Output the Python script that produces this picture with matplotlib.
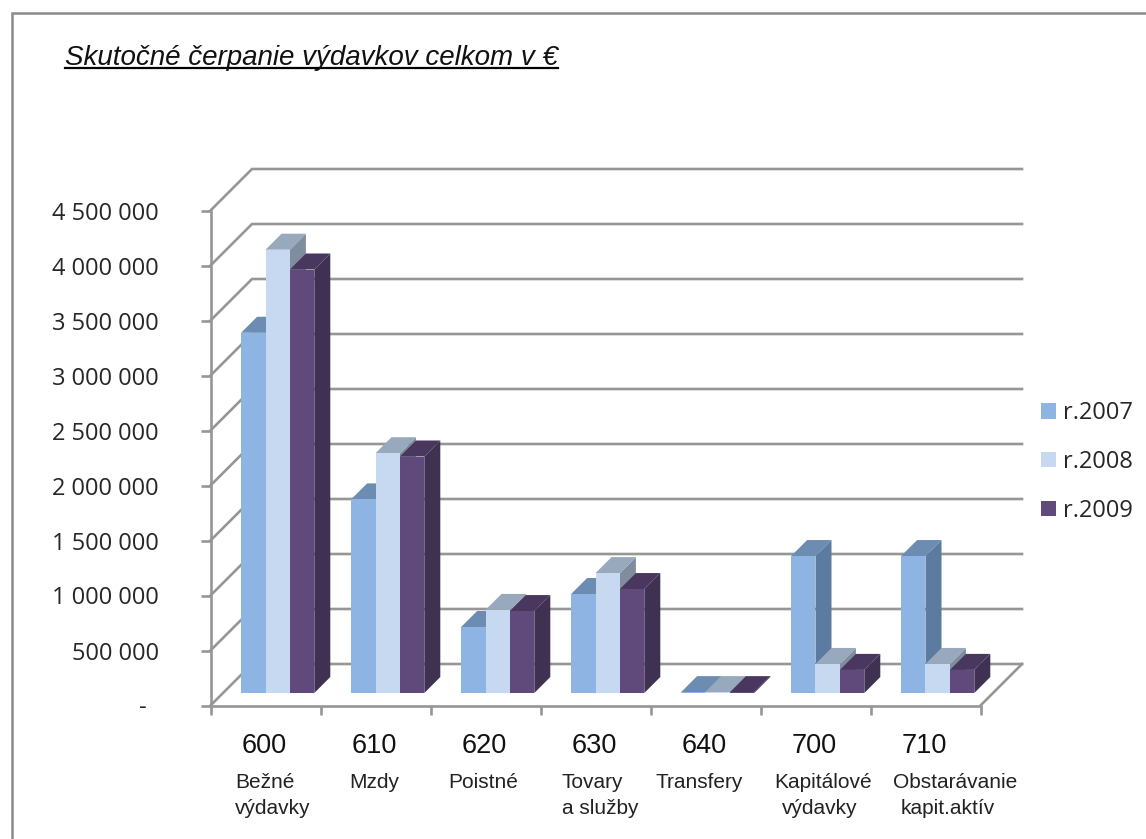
import matplotlib
matplotlib.use("Agg")
import matplotlib.pyplot as plt
from matplotlib.patches import Polygon, Patch
from matplotlib.lines import Line2D

W, H = 1146, 839

categories = ["600", "610", "620", "630", "640", "700", "710"]
series_names = ["r.2007", "r.2008", "r.2009"]
r2007 = [3275000, 1760000, 600000, 900000, 8000, 1245000, 1245000]
r2008 = [4030000, 2180000, 755000, 1090000, 8000, 264000, 264000]
r2009 = [3850000, 2150000, 745000, 945000, 8000, 210000, 210000]
y_ticks = [0, 500000, 1000000, 1500000, 2000000, 2500000, 3000000, 3500000, 4000000, 4500000]
y_tick_labels = ["-\u00a0\u00a0", "500 000", "1 000 000", "1 500 000", "2 000 000",
                 "2 500 000", "3 000 000", "3 500 000", "4 000 000", "4 500 000"]
sub_labels = [["Bežné", "výdavky"], ["Mzdy"], ["Poistné"], ["Tovary", "a služby"],
              ["Transfery"], ["Kapitálové", "výdavky"], ["Obstarávanie", "kapit.aktív"]]
title = "Skutočné čerpanie výdavkov celkom v €"

front = ["#8EB4E3", "#C6D9F1", "#604A7B"]
top = ["#6D8CB2", "#98A9BD", "#4A3760"]
side = ["#5B7BA0", "#7F8D9E", "#3F3151"]
GRID = "#969696"

fig = plt.figure(figsize=(W / 100, H / 100), dpi=100, facecolor="white")
ax = fig.add_axes([210.5 / W, (H - 705.5) / H, 770 / W, 495 / H])
ax.set_xlim(0, 7)
ax.set_ylim(0, 4500000)
ax.patch.set_visible(False)

ux = 7 / 770          # data units per pixel, horizontal
uy = 4500000 / 495    # data units per pixel, vertical
wall = 41.5
bar_depth = 16
floor_depth = 12.5
bar_w = 24.4 * ux
gap = 18.1 * ux


def px_fig(x, y):
    return x / W, 1 - y / H


# walls and floor
for v in y_ticks:
    ax.plot([0, wall * ux, 7 + wall * ux], [v, v + wall * uy, v + wall * uy],
            color=GRID, lw=1.9, clip_on=False, zorder=1, solid_joinstyle="miter")
ax.plot([7, 7 + wall * ux], [0, wall * uy], color=GRID, lw=1.9, clip_on=False, zorder=1)

# bars
all_series = [r2007, r2008, r2009]
zo = 2
for i in range(len(categories)):
    for s, vals in enumerate(all_series):
        v = vals[i]
        x0 = i + floor_depth * ux + gap + s * bar_w
        x1 = x0 + bar_w
        y0 = floor_depth * uy
        y1 = y0 + v
        dx, dy = bar_depth * ux, bar_depth * uy
        ax.add_patch(Polygon([(x1, y0), (x1 + dx, y0 + dy), (x1 + dx, y1 + dy), (x1, y1)],
                             fc=side[s], ec="none", zorder=zo, clip_on=False))
        ax.add_patch(Polygon([(x0, y1), (x1, y1), (x1 + dx, y1 + dy), (x0 + dx, y1 + dy)],
                             fc=top[s], ec="none", zorder=zo, clip_on=False))
        ax.add_patch(Polygon([(x0, y0), (x1, y0), (x1, y1), (x0, y1)],
                             fc=front[s], ec="none", zorder=zo, clip_on=False))
        zo += 1

# axes
for name in ("top", "right"):
    ax.spines[name].set_visible(False)
for name in ("left", "bottom"):
    ax.spines[name].set_color(GRID)
    ax.spines[name].set_linewidth(1.9)
ax.set_yticks(y_ticks)
ax.set_yticklabels(y_tick_labels, fontfamily="Open Sans", fontsize=17, color="#262626")
ax.set_xticks(range(len(categories) + 1))
ax.set_xticklabels([])
ax.tick_params(axis="y", length=7, width=1.9, color=GRID, pad=30)
ax.tick_params(axis="x", length=6.5, width=1.9, color=GRID)

# category labels
for i, c in enumerate(categories):
    ax.annotate(c, xy=(i + 0.5, 0), xycoords=("data", "axes fraction"),
                xytext=(-1, -29), textcoords="offset points", ha="center", va="center",
                fontfamily="Liberation Sans", fontsize=19.5, color="#111111")

# hand-placed descriptions (left edge of each line, in pixels)
line_left = [[235, 235], [349], [448], [561, 562], [656], [774, 782], [893, 901]]
for lines, lefts in zip(sub_labels, line_left):
    for k, (t, lx) in enumerate(zip(lines, lefts)):
        fx, fy = px_fig(lx, 782 + 26 * k)
        fig.text(fx, fy, t, ha="left", va="center", fontfamily="Liberation Sans",
                 fontsize=15, color="#222222")

# title
fx, fy = px_fig(65, 65)
tt = fig.text(fx, fy, title, ha="left", va="baseline", fontfamily="Liberation Sans",
              fontsize=20, style="italic", color="#111111")
fig.canvas.draw()
bb = tt.get_window_extent()
fig.add_artist(Line2D([bb.x0 / W, bb.x1 / W], [1 - 67.5 / H] * 2, color="black", lw=1.6))

# outer border (left and top only)
fig.add_artist(Line2D([12 / W, 12 / W, 1], [0, 1 - 13 / H, 1 - 13 / H], color="#8A8A8A", lw=1.8,
                      solid_joinstyle="miter"))

# legend
handles = [Patch(fc=c, ec="none", label=n) for c, n in zip(front, series_names)]
ax.legend(handles=handles, loc="upper left", bbox_to_anchor=(1041 / W, 1 - 401 / H),
          bbox_transform=fig.transFigure, frameon=False, borderpad=0, borderaxespad=0,
          handlelength=0.65, handleheight=0.65, handletextpad=0.27, labelspacing=1.055,
          prop={"family": "Open Sans", "size": 17}, labelcolor="#262626")

fig.savefig("out.png", dpi=100)
